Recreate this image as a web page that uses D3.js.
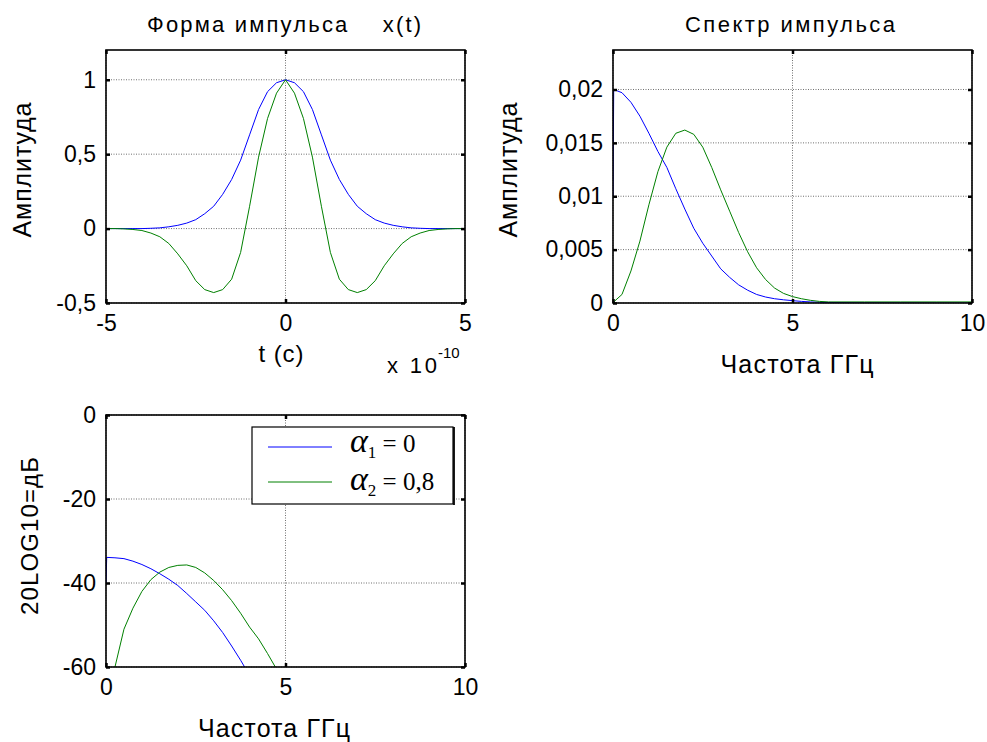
<!DOCTYPE html>
<html>
<head>
<meta charset="utf-8">
<style>
    body { margin: 0; background: #fff; }
    svg { display: block; font-family: 'Liberation Sans', Arial, sans-serif; }
    .grid line { stroke: #606060; stroke-width: 0.9; stroke-dasharray: 1, 1.5; }
</style>
</head>
<body>
<svg width="987" height="742"></svg>
<script src="https://d3js.org/d3.v7.min.js"></script>
<script>
// pulse shape, t in units of 1e-10 s
let tVals = [-5, -4.75, -4.5, -4.25, -4, -3.75, -3.5, -3.25, -3, -2.75, -2.5, -2.25, -2, -1.75, -1.5, -1.25, -1, -0.75, -0.5, -0.25,
    0, 0.25, 0.5, 0.75, 1, 1.25, 1.5, 1.75, 2, 2.25, 2.5, 2.75, 3, 3.25, 3.5, 3.75, 4, 4.25, 4.5, 4.75, 5]
let pulseA1 = [0, 0, 0, 0, 0, 0.002, 0.005, 0.012, 0.022, 0.037, 0.06, 0.1, 0.15, 0.23, 0.33, 0.46, 0.63, 0.8, 0.92, 0.98,
    1, 0.98, 0.92, 0.8, 0.63, 0.46, 0.33, 0.23, 0.15, 0.1, 0.06, 0.037, 0.022, 0.012, 0.005, 0.002, 0, 0, 0, 0, 0]
let pulseA2 = [0, 0, -0.002, -0.006, -0.013, -0.03, -0.055, -0.1, -0.17, -0.25, -0.35, -0.41, -0.43, -0.41, -0.34, -0.16, 0.15, 0.48, 0.74, 0.91,
    1, 0.91, 0.74, 0.48, 0.15, -0.16, -0.34, -0.41, -0.43, -0.41, -0.35, -0.25, -0.17, -0.1, -0.055, -0.03, -0.013, -0.006, -0.002, 0, 0]

// spectrum, GHz
let fVals = [0, 0.02, 0.25, 0.5, 0.75, 1, 1.25, 1.5, 1.75, 2, 2.25, 2.5, 2.75, 3, 3.25, 3.5, 3.75, 4, 4.25, 4.5, 4.75, 5,
    5.25, 5.5, 5.75, 6, 7, 8, 9, 10]
let specA1 = [0.01, 0.02, 0.0197, 0.0188, 0.0175, 0.0159, 0.0142, 0.0127, 0.0107, 0.0088, 0.007, 0.0056, 0.0044, 0.0032, 0.0024, 0.0017, 0.0012, 0.0008, 0.00056, 0.0004, 0.0003, 0.00022,
    0.00015, 0.0001, 0.00007, 0.00005, 0.00002, 0.00001, 0, 0]
let specA2 = [0.0001, 0.0001, 0.0008, 0.003, 0.0058, 0.0092, 0.0123, 0.0146, 0.0159, 0.0162, 0.0158, 0.0146, 0.0127, 0.0106, 0.0086, 0.0066, 0.0048, 0.0033, 0.0022, 0.0014, 0.0009, 0.0006,
    0.0004, 0.00025, 0.00015, 0.0001, 0.0001, 0.0001, 0.0001, 0.0001]

// spectrum in dB
let dbA1 = [-40, -33.9, -34, -34.2, -34.8, -35.6, -36.6, -37.8, -39.1, -40.6, -42.5, -44.5, -46.5, -49, -51.8, -55, -58.4, -62, -66, -70, -74, -78,
    -82, -86, -90, -94, -100, -100, -100, -100]
let dbA2 = [-80, -80, -60, -51, -46, -42, -39.2, -37.4, -36.3, -35.8, -35.7, -36.3, -37.6, -39.4, -41.6, -44.2, -47.2, -50.5, -53.3, -56.8, -60.5, -66,
    -70, -74, -78, -80, -80, -80, -80, -80]

let legendLabels = [{ sub: "1", val: "0" }, { sub: "2", val: "0,8" }]
let colors = ["#0000ff", "#008000"]

let svg = d3.select("svg")

function tickText(v) {
    return String(v).replace(".", ",")
}

function panel(o) {
    let x = d3.scaleLinear().domain(o.xDom).range([o.left, o.right])
    let y = d3.scaleLinear().domain(o.yDom).range([o.bottom, o.top])
    let g = svg.append("g")

    // grid
    let grid = g.append("g").attr("class", "grid")
    grid.selectAll(".gx").data(o.xTicks).join("line")
        .attr("x1", d => x(d)).attr("x2", d => x(d))
        .attr("y1", o.top).attr("y2", o.bottom)
    grid.selectAll(".gy").data(o.yTicks).join("line")
        .attr("x1", o.left).attr("x2", o.right)
        .attr("y1", d => y(d)).attr("y2", d => y(d))

    // clip + data lines
    let clipId = "clip" + o.id
    g.append("clipPath").attr("id", clipId)
        .append("rect").attr("x", o.left).attr("y", o.top)
        .attr("width", o.right - o.left).attr("height", o.bottom - o.top)

    let line = d3.line().x((d, i) => x(o.xs[i])).y(d => y(d))
    g.append("g").attr("clip-path", "url(#" + clipId + ")")
        .selectAll("path").data(o.series).join("path")
        .attr("d", d => line(d))
        .attr("fill", "none")
        .attr("stroke", (d, i) => colors[i])
        .attr("stroke-width", 1)

    // box
    g.append("rect").attr("x", o.left).attr("y", o.top)
        .attr("width", o.right - o.left).attr("height", o.bottom - o.top)
        .attr("fill", "none").attr("stroke", "#000").attr("stroke-width", 1.6)

    // axes (ticks inside, on all sides)
    g.append("g").attr("transform", `translate(0,${o.bottom})`)
        .call(d3.axisBottom(x).tickValues(o.xTicks).tickSize(-4).tickFormat(tickText).tickPadding(12))
    g.append("g").attr("transform", `translate(0,${o.top})`)
        .call(d3.axisTop(x).tickValues(o.xTicks).tickSize(-4).tickFormat(""))
    g.append("g").attr("transform", `translate(${o.left},0)`)
        .call(d3.axisLeft(y).tickValues(o.yTicks).tickSize(-4).tickFormat(tickText).tickPadding(10))
    g.append("g").attr("transform", `translate(${o.right},0)`)
        .call(d3.axisRight(y).tickValues(o.yTicks).tickSize(-4).tickFormat(""))

    g.selectAll(".domain").remove()
    g.selectAll(".tick line").attr("stroke", "#000").attr("stroke-width", 2.5)
    g.selectAll(".tick text").attr("font-size", 23).attr("fill", "#000")
        .attr("font-family", "'Liberation Sans', Arial, sans-serif")

    return { x, y, g }
}

// top-left: pulse shape
let p1 = panel({
    id: 1, left: 106, right: 465, top: 50, bottom: 303,
    xDom: [-5, 5], yDom: [-0.5, 1.2], xTicks: [-5, 0, 5], yTicks: [-0.5, 0, 0.5, 1],
    xs: tVals, series: [pulseA1, pulseA2]
})

// top-right: spectrum
let p2 = panel({
    id: 2, left: 613, right: 972, top: 50, bottom: 303,
    xDom: [0, 10], yDom: [0, 0.0237], xTicks: [0, 5, 10], yTicks: [0, 0.005, 0.01, 0.015, 0.02],
    xs: fVals, series: [specA1, specA2]
})

// bottom-left: dB
let p3 = panel({
    id: 3, left: 106, right: 465, top: 415, bottom: 667,
    xDom: [0, 10], yDom: [-60, 0], xTicks: [0, 5, 10], yTicks: [-60, -40, -20, 0],
    xs: fVals, series: [dbA1, dbA2]
})

// titles and labels
function label(txt, x, y, size, len, rotate) {
    let t = svg.append("text")
        .attr("text-anchor", "middle")
        .attr("font-size", size)
        .attr("fill", "#000")
        .style("white-space", "pre")
        .text(txt)
    if (len) t.attr("textLength", len).attr("lengthAdjust", "spacing")
    if (rotate) t.attr("transform", `translate(${x},${y}) rotate(-90)`)
    else t.attr("x", x).attr("y", y)
    return t
}

label("Форма импульса    x(t)", 284, 32, 22, 274)
label("Спектр импульса", 790, 32, 22, 210)
label("t (c)", 281, 362, 24, 45)
label("Амплитуда", 31, 170, 25, 135, true)
label("Амплитуда", 517, 170, 25, 135, true)
label("Частота ГГц", 797, 373, 25, 153)
label("Частота ГГц", 274, 737, 25, 152)
label("20LOG10=дБ", 38, 536, 24, 158, true)

// exponent label for pulse time axis
let ex = svg.append("text").attr("x", 387).attr("y", 373).attr("font-size", 22).attr("fill", "#000")
    .style("white-space", "pre")
ex.append("tspan").attr("textLength", 50).attr("lengthAdjust", "spacing").text("x 10")
ex.append("tspan").attr("x", 438).attr("dy", -15).attr("font-size", 15).text("-10")

// legend
let lg = svg.append("g")
lg.append("rect").attr("x", 252).attr("y", 427).attr("width", 201).attr("height", 77)
    .attr("fill", "#fff").attr("stroke", "#000").attr("stroke-width", 1.2)
lg.append("line").attr("x1", 454).attr("x2", 454).attr("y1", 427).attr("y2", 505)
    .attr("stroke", "#000").attr("stroke-width", 1.8)
let rows = lg.selectAll(".row").data(legendLabels).join("g")
    .attr("transform", (d, i) => `translate(0,${447 + i * 35})`)
rows.append("line").attr("x1", 268).attr("x2", 332).attr("y1", 0).attr("y2", 0)
    .attr("stroke", (d, i) => colors[i]).attr("stroke-width", 1)
let lt = rows.append("text").attr("x", 350).attr("y", (d, i) => 5 + i * 3)
    .attr("font-family", "'Liberation Serif', 'Times New Roman', serif")
    .attr("font-size", 25).attr("fill", "#000")
lt.append("tspan").attr("font-style", "italic").attr("font-size", 34).text("α")
lt.append("tspan").attr("font-size", 17).attr("dy", 6).text(d => d.sub)
lt.append("tspan").attr("dy", -6).text(d => " = " + d.val)
</script>
</body>
</html>
